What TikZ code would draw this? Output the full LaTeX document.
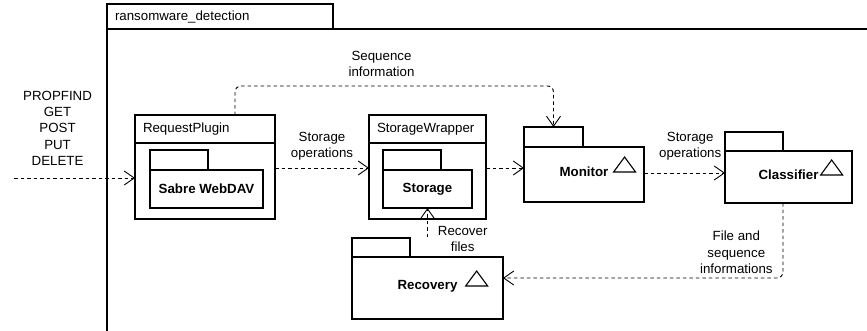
\documentclass[tikz,border=0pt]{standalone}
\usepackage{fontspec}
\setmainfont{Liberation Sans}
\usetikzlibrary{positioning,arrows.meta}

\begin{document}
\begin{tikzpicture}[
        x=1pt, y=-1pt,
        font=\fontsize{13.3}{16.3}\selectfont,
        box/.style={draw, line width=1.1pt, inner sep=0pt, outer sep=0pt},
        head/.style={box, minimum height=28pt, inner xsep=8pt, align=left},
        body/.style={box, minimum height=76pt},
        tab/.style={box, anchor=south west, minimum width=58pt, minimum height=20pt},
        pkg/.style={box, font=\fontsize{13.3}{16.3}\selectfont\bfseries},
        pkgname/.style={inner sep=0pt, font=\fontsize{13.3}{16.3}\selectfont\bfseries},
        dep/.style={-{Straight Barb[length=10pt,width=14pt]}, line width=0.9pt, dash pattern=on 3.5pt off 3pt},
        lbl/.style={align=center, inner sep=2pt},
        tri/.pic={\draw[line width=1.1pt] (0,0) -- (11,-15) -- (22,0) -- cycle;}
    ]
    \useasboundingbox (0,0) rectangle (867,330);

    % Outer package
    \node[box, anchor=north west, minimum width=780pt, minimum height=320pt] (frame) at (107,29) {};
    \node[tab, minimum width=226pt, minimum height=25pt, text width=210pt, inner xsep=8pt, align=left] (frametab) at (frame.north west) {ransomware\_detection};

    % Request handling
    \node[head, text width=124pt, anchor=north west] (reqhead) at (135,115) {RequestPlugin};
    \node[body, minimum width=140pt, below=0pt of reqhead] (req) {};
    \node[pkg, minimum width=113pt, minimum height=38pt, below right=27pt and 15pt of req.north west] (sabre) {Sabre WebDAV};
    \node[tab] (sabretab) at (sabre.north west) {};

    \node[head, text width=101pt, right=94pt of reqhead] (swhead) {StorageWrapper};
    \node[body, minimum width=117pt, below=0pt of swhead] (sw) {};
    \node[pkg, minimum width=89pt, minimum height=38pt, below right=27pt and 14pt of sw.north west] (stor) {Storage};
    \node[tab] (stortab) at (stor.north west) {};

    % Detection packages
    \node[box, minimum width=120pt, minimum height=55pt] (mon) at (584,174.5) {};
    \node[tab, minimum width=59pt] (montab) at (mon.north west) {};
    \node[pkgname] (montxt) at ([yshift=2.5pt]mon.center) {Monitor};
    \pic at ([xshift=5pt]montxt.east) {tri};

    \node[box, minimum width=127pt, minimum height=52pt] (cls) at (788.5,177) {};
    \node[tab, minimum height=19pt] (clstab) at (cls.north west) {};
    \node[pkgname] (clstxt) at ([yshift=2pt]cls.center) {Classifier};
    \pic at ([xshift=2pt]clstxt.east) {tri};

    \node[box, minimum width=151pt, minimum height=62pt] (rec) at (427.5,288) {};
    \node[tab, minimum height=19pt] (rectab) at (rec.north west) {};
    \node[pkgname] (rectxt) at ([yshift=2pt]rec.center) {Recovery};
    \pic at ([xshift=8pt]rectxt.east) {tri};

    % Connectors
    \coordinate (src) at (14,178);
    \draw[dep] (src) -- node[lbl, above=10pt, pos=0.36] {PROPFIND\\GET\\POST\\PUT\\DELETE} ([yshift=3pt]req.west);
    \draw[dep] ([yshift=13pt]req.east) -- node[lbl, above=5pt] {Storage\\operations} ([yshift=13pt]sw.west);
    \draw[dep] ([yshift=13pt]sw.east) -- ([yshift=13pt]sw.east -| mon.west);
    \draw[dep] ([yshift=1.5pt]mon.east) -- node[lbl, above=10pt, pos=0.57] {Storage\\operations} ([yshift=1.5pt]mon.east -| cls.west);
    \draw[dep, rounded corners=6pt] ([xshift=30pt]reqhead.north) -- ++(0,-29) -| node[lbl, above=7pt, pos=0.23] {Sequence\\information} (montab.north);
    \draw[dep, rounded corners=6pt] ([xshift=-5.5pt]cls.south) |- node[lbl, left=8pt, pos=0.33] {File and\\sequence\\informations} ([yshift=10pt]rec.east);
    \draw[dep] ([yshift=20pt]rec.north) -- node[lbl, right=8pt, pos=-0.08] {Recover\\files} (stor.south);

\end{tikzpicture}
\end{document}
